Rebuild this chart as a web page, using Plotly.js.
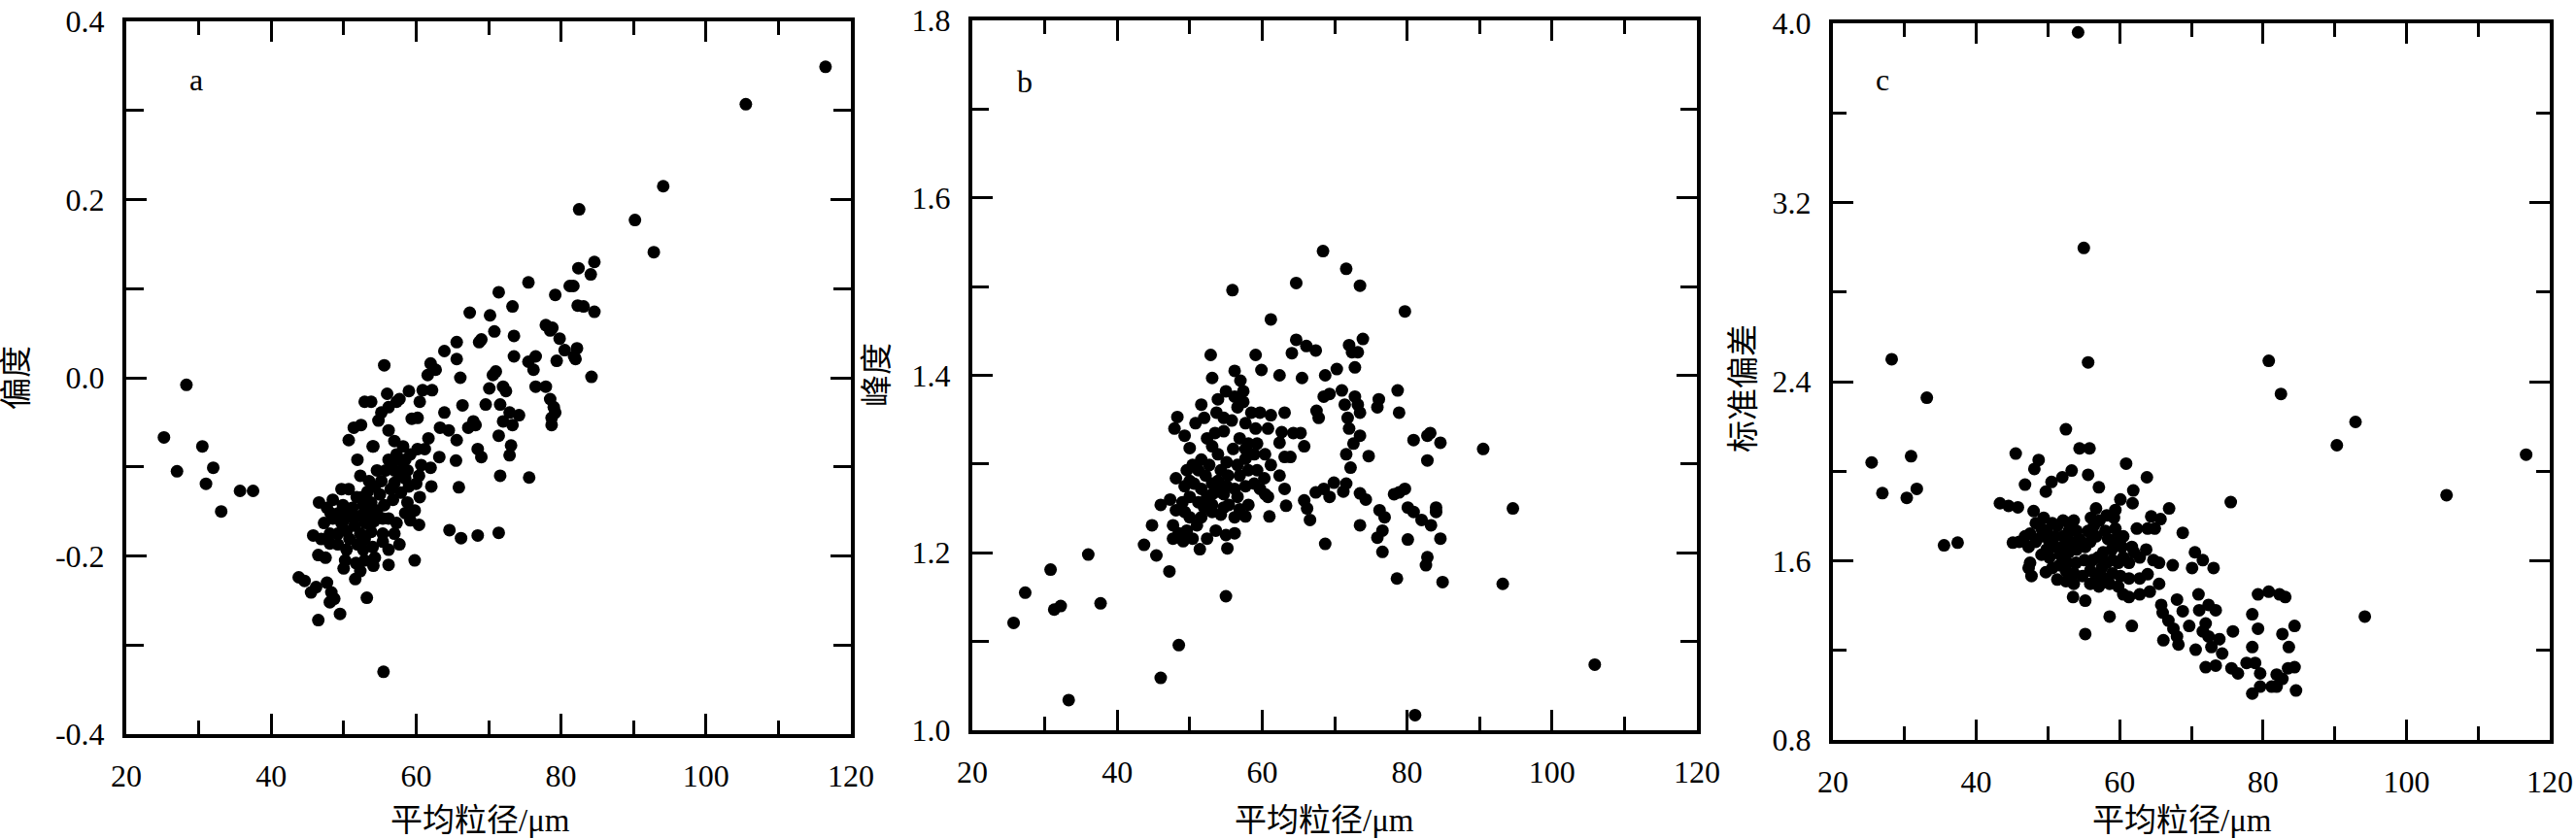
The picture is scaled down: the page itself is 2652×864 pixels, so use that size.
<!DOCTYPE html>
<html>
<head>
<meta charset="utf-8">
<script src="https://cdn.plot.ly/plotly-3.0.1.min.js"></script>
<style>
  body { margin: 0; background: #fff; }
  #chart { width: 2652px; height: 864px; }
</style>
</head>
<body>
<div id="chart"></div>
<script>
// panel a: 平均粒径 vs 偏度
const grainA = [
  25.2,28.3,27.0,30.5,31.0,32.0,33.1,35.7,37.5,116.5,
  105.5,94.1,90.2,92.8,82.5,55.5,84.6,84.1,82.4,81.2,
  81.7,79.2,82.3,83.1,84.6,75.5,73.3,71.4,67.4,70.2,
  70.8,68.7,69.0,73.5,77.9,78.5,78.8,79.8,80.5,82.2,
  81.8,82.0,79.4,84.2,73.5,75.5,76.5,76.2,76.5,77.9,
  78.5,79.0,78.7,78.7,79.2,71.0,70.6,72.0,72.4,71.6,
  69.6,70.1,72.9,74.2,72.0,73.3,71.4,73.1,72.9,71.6,
  75.6,69.0,68.5,67.9,68.2,67.2,66.1,66.4,65.6,65.6,
  63.9,62.0,62.7,61.6,60.9,62.2,60.5,63.9,65.6,65.5,
  65.9,63.3,64.5,61.7,63.2,61.2,60.2,60.7,62.0,62.1,
  60.5,59.8,60.4,59.2,59.8,64.6,66.2,68.5,71.4,60.2,
  59.4,59.0,57.7,57.3,56.0,56.2,55.6,55.2,54.8,53.8,
  52.9,52.4,51.4,50.7,54.0,56.2,57.0,57.3,58.2,58.5,
  58.0,56.2,55.8,55.2,57.0,57.9,56.8,55.6,54.3,53.3,
  52.5,51.9,50.7,49.7,49.9,49.3,48.2,46.6,47.7,48.5,
  50.0,51.4,52.3,53.5,54.6,56.2,57.3,58.5,58.8,53.0,
  51.5,50.4,49.2,48.1,45.8,49.2,48.1,50.4,51.9,52.9,
  54.0,55.4,57.0,57.7,54.1,56.2,52.9,51.7,50.0,51.6,
  47.5,46.5,43.8,44.6,45.5,46.2,47.7,48.3,48.7,48.1,
  49.5,46.5,53.2,54.1,51.8,57.0,60.4,60.0,59.0,57.7,
  58.5,55.0,53.8,52.7,56.5,55.4,53.8,51.2,50.4,52.3,
  54.2,48.5,52.3,53.5,54.6,56.5,57.7,59.2,58.8,49.7,
  50.8,52.7,54.3,55.4,56.2,47.3,46.9,52.3,50.2
];
const skewness = [
  -0.067,-0.008,-0.105,-0.077,-0.119,-0.101,-0.150,-0.127,-0.127,0.349,
  0.307,0.215,0.177,0.141,0.189,-0.330,0.130,0.116,0.123,0.103,
  0.103,0.093,0.081,0.080,0.074,0.107,0.080,0.096,0.073,0.070,
  0.052,0.040,0.043,0.047,0.059,0.053,0.056,0.044,0.031,0.033,
  0.024,0.021,0.019,0.001,0.024,0.018,0.024,0.009,-0.010,-0.010,
  -0.024,-0.033,-0.045,-0.053,-0.039,0.007,0.003,-0.010,-0.015,-0.030,
  -0.030,-0.012,-0.039,-0.042,-0.049,-0.053,-0.065,-0.076,-0.087,-0.110,
  -0.112,-0.089,-0.080,-0.049,-0.053,-0.056,0.000,-0.031,0.040,0.021,
  0.030,0.016,0.009,0.003,-0.014,-0.014,-0.027,-0.039,-0.070,-0.093,
  -0.123,-0.056,-0.059,-0.068,-0.089,-0.080,-0.080,-0.098,-0.101,-0.122,
  -0.134,-0.149,-0.165,-0.160,-0.205,-0.171,-0.180,-0.177,-0.174,-0.045,
  -0.046,-0.015,-0.024,-0.027,-0.018,-0.033,0.014,-0.039,-0.048,-0.027,
  -0.027,-0.053,-0.056,-0.070,-0.077,-0.059,-0.071,-0.086,-0.077,-0.092,
  -0.104,-0.092,-0.104,-0.116,-0.118,-0.129,-0.137,-0.143,-0.122,-0.128,
  -0.134,-0.092,-0.125,-0.125,-0.143,-0.152,-0.152,-0.140,-0.146,-0.158,
  -0.160,-0.158,-0.155,-0.152,-0.149,-0.158,-0.163,-0.152,-0.140,-0.163,
  -0.166,-0.172,-0.175,-0.175,-0.177,-0.187,-0.186,-0.193,-0.187,-0.181,
  -0.190,-0.184,-0.175,-0.187,-0.211,-0.210,-0.205,-0.208,-0.214,-0.226,
  -0.202,-0.199,-0.224,-0.228,-0.241,-0.235,-0.230,-0.241,-0.248,-0.252,
  -0.265,-0.272,-0.247,-0.077,-0.134,-0.104,-0.110,-0.119,-0.122,-0.110,
  -0.113,-0.131,-0.140,-0.143,-0.125,-0.158,-0.173,-0.146,-0.152,-0.175,
  -0.161,-0.137,-0.110,-0.116,-0.104,-0.098,-0.092,-0.086,-0.104,-0.163,
  -0.181,-0.193,-0.202,-0.175,-0.193,-0.163,-0.181,-0.217,-0.205
];

// panel b: 平均粒径 vs 峰度
const grainB = [
  25.7,27.3,30.8,31.3,32.2,33.3,36.0,37.7,43.7,44.8,
  45.4,46.0,47.2,48.5,46.0,47.3,48.1,47.9,48.3,49.3,
  50.0,51.4,55.0,55.2,55.0,52.9,53.1,51.6,52.0,55.9,
  56.2,57.0,57.4,59.1,59.9,61.2,62.4,64.1,64.7,64.7,
  65.5,66.1,67.4,68.4,71.6,73.5,79.7,68.7,70.3,72.0,
  72.4,73.2,72.8,73.9,71.0,69.3,68.5,67.5,67.8,71.4,
  71.8,72.8,73.2,73.5,73.5,72.0,71.6,72.6,72.2,74.7,
  76.1,75.9,78.7,78.9,80.9,82.8,83.2,82.8,84.6,90.5,
  94.6,93.2,105.9,81.1,78.6,82.6,82.8,84.9,84.6,84.0,
  84.0,83.3,82.0,80.9,80.1,79.7,78.9,78.2,80.1,76.2,
  76.9,76.6,75.9,76.6,73.5,74.3,73.5,71.6,71.2,69.9,
  69.3,68.5,67.4,65.8,66.2,66.6,68.7,65.3,64.3,65.8,
  63.9,63.1,62.4,62.7,63.1,60.8,61.2,59.7,58.5,59.1,
  58.1,56.9,56.0,57.7,59.3,60.3,62.4,63.1,63.3,60.8,
  60.4,59.7,61.0,58.1,57.7,56.2,56.9,56.6,55.4,54.7,
  53.9,53.1,52.2,51.2,50.4,49.6,50.6,51.6,52.4,50.0,
  49.0,49.3,50.0,51.0,49.6,48.5,47.7,47.7,49.1,50.4,
  52.0,53.1,53.6,54.3,55.3,55.1,53.9,53.1,52.4,53.5,
  54.7,54.7,53.7,55.8,56.6,57.4,57.7,56.2,55.0,53.9,
  50.8,58.1,56.9,57.7,58.9,55.1,53.9,52.7,51.6,56.2,
  54.7,53.1,50.0,51.2,53.1,54.3,51.6,56.6,58.9,59.3,
  60.4,61.2,57.7,49.3,48.1,52.4,56.2
];
const kurtosis = [
  1.121,1.155,1.181,1.136,1.140,1.034,1.198,1.143,1.209,1.231,
  1.197,1.059,1.179,1.096,1.254,1.260,1.284,1.340,1.353,1.332,
  1.318,1.204,1.151,1.205,1.220,1.423,1.397,1.367,1.352,1.496,
  1.405,1.394,1.382,1.423,1.406,1.463,1.400,1.425,1.504,1.440,
  1.397,1.433,1.428,1.540,1.520,1.501,1.472,1.400,1.407,1.434,
  1.426,1.426,1.409,1.441,1.383,1.379,1.376,1.360,1.352,1.367,
  1.352,1.376,1.367,1.358,1.332,1.340,1.311,1.323,1.296,1.309,
  1.373,1.364,1.383,1.358,1.327,1.332,1.335,1.304,1.324,1.317,
  1.250,1.165,1.074,1.017,1.171,1.186,1.195,1.167,1.216,1.251,
  1.246,1.231,1.237,1.246,1.251,1.272,1.268,1.266,1.215,1.248,
  1.240,1.225,1.217,1.201,1.267,1.260,1.231,1.278,1.269,1.279,
  1.263,1.272,1.268,1.259,1.250,1.237,1.210,1.335,1.335,1.320,
  1.308,1.308,1.324,1.336,1.358,1.340,1.355,1.358,1.358,1.340,
  1.323,1.329,1.317,1.306,1.293,1.284,1.287,1.272,1.253,1.263,
  1.266,1.272,1.241,1.254,1.241,1.240,1.249,1.263,1.254,1.251,
  1.269,1.278,1.287,1.293,1.299,1.293,1.278,1.272,1.263,1.263,
  1.257,1.246,1.240,1.231,1.225,1.222,1.231,1.216,1.213,1.216,
  1.251,1.246,1.225,1.293,1.287,1.302,1.311,1.320,1.329,1.335,
  1.337,1.352,1.358,1.349,1.364,1.370,1.346,1.376,1.382,1.373,
  1.346,1.293,1.287,1.275,1.278,1.275,1.281,1.299,1.305,1.272,
  1.266,1.266,1.281,1.257,1.254,1.243,1.240,1.299,1.311,1.323,
  1.311,1.299,1.317,1.275,1.248,1.216,1.222
];

// panel c: 平均粒径 vs 标准偏差
const grainC = [
  54.2,55.0,28.2,55.6,80.8,82.5,33.1,92.9,90.3,116.7,
  25.4,30.9,26.9,30.3,31.7,105.6,75.5,35.5,37.4,94.2,
  52.5,45.5,48.7,48.1,46.8,49.7,50.5,52.0,53.3,54.4,
  55.8,55.6,57.1,60.9,63.8,61.9,60.1,61.8,56.7,59.4,
  43.3,44.5,45.8,48.0,59.2,66.9,64.4,65.7,62.4,63.9,
  64.9,68.8,45.1,46.0,46.8,47.5,47.3,48.3,49.1,49.1,
  49.8,50.6,51.0,51.3,52.1,52.9,53.6,52.9,52.1,54.0,
  54.4,53.2,52.1,51.0,49.8,49.1,50.2,51.7,52.9,54.0,
  55.2,55.9,55.6,56.4,57.2,56.0,58.0,58.4,59.5,60.3,
  58.9,57.7,57.0,56.2,55.1,53.9,52.7,51.6,47.5,47.3,
  47.7,49.7,51.3,52.5,53.6,54.8,55.9,56.7,57.5,58.2,
  59.0,59.8,60.5,61.3,62.0,62.8,63.7,64.7,65.5,67.4,
  70.1,70.5,71.6,73.1,57.9,58.6,59.8,60.5,61.3,62.8,
  63.9,62.8,64.2,65.5,53.5,55.2,55.2,58.6,61.7,65.8,
  66.0,66.8,67.5,66.1,68.0,68.8,68.0,68.2,69.7,71.0,
  71.1,72.4,73.4,72.0,71.6,72.4,73.9,70.6,72.8,74.3,
  72.0,73.4,75.8,75.6,76.5,77.7,78.9,78.5,79.3,79.3,
  80.8,82.3,83.1,78.5,79.6,78.5,79.6,81.2,81.9,82.7,
  83.5,84.4,83.6,82.7,84.4,84.6,81.9,48.3,49.4,50.2,
  52.5,53.6,50.6,55.9,57.1,59.0,60.1,61.3,56.7,58.2,
  59.4,60.5,61.7
];
const stdDev = [
  3.960,2.997,2.500,2.486,2.493,2.345,2.328,2.220,2.116,2.074,
  2.039,2.067,1.902,1.881,1.921,1.893,1.862,1.669,1.681,1.351,
  2.187,2.079,2.050,2.010,1.940,1.909,1.952,1.973,2.003,2.102,
  2.102,1.984,1.928,2.034,1.973,1.914,1.874,1.857,1.834,1.827,
  1.857,1.845,1.839,1.822,1.792,1.834,1.798,1.786,1.744,1.744,
  1.744,1.725,1.681,1.685,1.709,1.721,1.662,1.685,1.744,1.709,
  1.733,1.768,1.709,1.756,1.780,1.768,1.780,1.733,1.709,1.733,
  1.697,1.685,1.662,1.662,1.650,1.627,1.615,1.627,1.638,1.650,
  1.662,1.685,1.733,1.756,1.780,1.792,1.733,1.697,1.697,1.662,
  1.650,1.638,1.615,1.603,1.603,1.591,1.591,1.580,1.591,1.568,
  1.532,1.549,1.516,1.509,1.497,1.532,1.556,1.532,1.568,1.591,
  1.603,1.591,1.615,1.591,1.638,1.615,1.650,1.603,1.591,1.580,
  1.568,1.638,1.603,1.568,1.521,1.497,1.485,1.450,1.438,1.521,
  1.540,1.450,1.462,1.497,1.438,1.422,1.273,1.351,1.309,1.403,
  1.368,1.333,1.297,1.245,1.427,1.375,1.262,1.226,1.309,1.450,
  1.379,1.403,1.379,1.320,1.285,1.262,1.250,1.203,1.215,1.186,
  1.125,1.132,1.285,1.120,1.097,1.144,1.144,1.361,1.297,1.450,
  1.462,1.450,1.438,1.215,1.097,1.007,1.038,1.038,1.092,1.073,
  1.120,1.125,1.215,1.273,1.309,1.021,1.038,1.768,1.792,1.685,
  1.556,1.544,1.568,1.497,1.485,1.544,1.532,1.521,1.709,1.803,
  1.744,1.709,1.662
];

// tick labels
const grainTicks = [20, 40, 60, 80, 100, 120];
const skewTicks = [-0.4, -0.2, 0, 0.2, 0.4];
const skewTickText = ['-0.4', '-0.2', '0.0', '0.2', '0.4'];
const kurtTicks = [1.0, 1.2, 1.4, 1.6, 1.8];
const kurtTickText = ['1.0', '1.2', '1.4', '1.6', '1.8'];
const sdTicks = [0.8, 1.6, 2.4, 3.2, 4.0];
const sdTickText = ['0.8', '1.6', '2.4', '3.2', '4.0'];

const xTitle = '平均粒径/μm';
const yTitles = ['偏度', '峰度', '标准偏差'];
const panelLabels = ['a', 'b', 'c'];

const W = 2652, H = 864;
const serif = 'Liberation Serif, Times New Roman, Noto Sans CJK SC, serif';
const tickFont = {family: serif, size: 32, color: '#000'};

const px = (v) => v / W;
const py = (v) => 1 - v / H;

const makeX = (left, right, anchor) => ({
  domain: [px(left), px(right)],
  anchor: anchor,
  range: [20, 120],
  tickmode: 'array',
  tickvals: grainTicks,
  ticks: 'inside', ticklen: 21, tickwidth: 3, tickcolor: '#000',
  minor: {tickmode: 'linear', tick0: 20, dtick: 10, ticks: 'inside', ticklen: 14, tickwidth: 3, tickcolor: '#000'},
  showline: true, linewidth: 4, linecolor: '#000', mirror: 'ticks',
  showgrid: false, zeroline: false,
  tickfont: tickFont, ticklabelstandoff: 12, ticklabeloverflow: 'allow',
  fixedrange: true
});

const makeY = (top, bottom, anchor, range, vals, text, minorStep, minorLen) => ({
  domain: [py(bottom), py(top)],
  anchor: anchor,
  range: range,
  tickmode: 'array',
  tickvals: vals,
  ticktext: text,
  ticks: 'inside', ticklen: 21, tickwidth: 3, tickcolor: '#000',
  minor: {tickmode: 'linear', tick0: range[0], dtick: minorStep, ticks: 'inside', ticklen: minorLen, tickwidth: 3, tickcolor: '#000'},
  showline: true, linewidth: 4, linecolor: '#000', mirror: 'ticks',
  showgrid: false, zeroline: false,
  tickfont: tickFont, ticklabelstandoff: 12, ticklabeloverflow: 'allow',
  fixedrange: true
});

const dots = (x, y, xa, ya) => ({
  x: x, y: y, xaxis: xa, yaxis: ya,
  type: 'scatter', mode: 'markers', cliponaxis: false,
  marker: {color: '#000', size: 13, symbol: 'circle', line: {width: 0}},
  hoverinfo: 'skip', showlegend: false
});

const label = (text, x, y, size, angle) => ({
  text: text, xref: 'paper', yref: 'paper',
  x: px(x), y: py(y), xanchor: 'center', yanchor: 'middle',
  showarrow: false, textangle: angle || 0,
  font: {family: serif, size: size, color: '#000'}
});

const drawChart = () => {
  const data = [
    dots(grainA, skewness, 'x', 'y'),
    dots(grainB, kurtosis, 'x2', 'y2'),
    dots(grainC, stdDev, 'x3', 'y3')
  ];

  const layout = {
    width: W, height: H,
    margin: {l: 0, r: 0, t: 0, b: 0},
    paper_bgcolor: '#fff', plot_bgcolor: '#fff',
    showlegend: false,
    xaxis: makeX(130, 876, 'y'),
    yaxis: makeY(22, 756, 'x', [-0.4, 0.4], skewTicks, skewTickText, 0.1, 18),
    xaxis2: makeX(1001, 1747, 'y2'),
    yaxis2: makeY(21, 752, 'x2', [1.0, 1.8], kurtTicks, kurtTickText, 0.1, 17),
    xaxis3: makeX(1887, 2625, 'y3'),
    yaxis3: makeY(24, 762, 'x3', [0.8, 4.0], sdTicks, sdTickText, 0.4, 14),
    annotations: [
      label(panelLabels[0], 202, 82, 32),
      label(panelLabels[1], 1055, 84, 32),
      label(panelLabels[2], 1938, 82, 32),
      label(yTitles[0], 17, 389, 33, -90),
      label(yTitles[1], 903, 386, 33, -90),
      label(yTitles[2], 1795, 400, 33, -90),
      label(xTitle, 494, 845, 33),
      label(xTitle, 1364, 845, 33),
      label(xTitle, 2246, 845, 33)
    ]
  };

  Plotly.newPlot('chart', data, layout, {staticPlot: true, displayModeBar: false});
};

drawChart();
</script>
</body>
</html>
